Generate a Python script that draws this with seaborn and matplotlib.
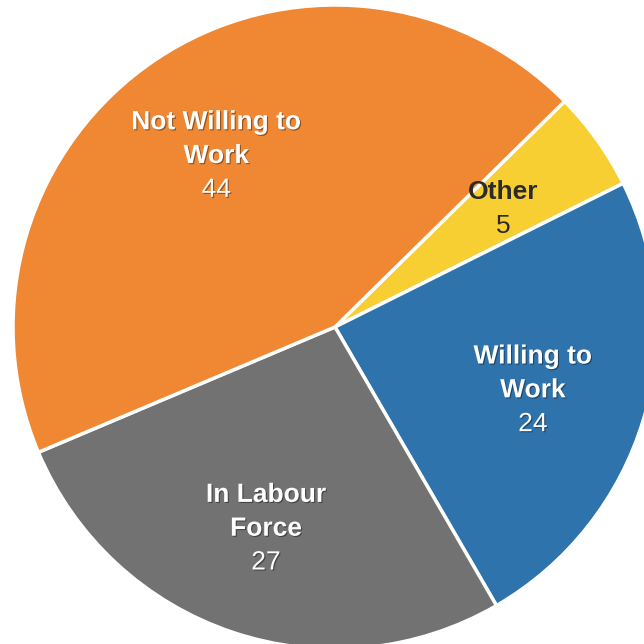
import numpy as np
import matplotlib
matplotlib.use("Agg")
import matplotlib.pyplot as plt
import matplotlib.patheffects as pe
import seaborn as sns

# Survey breakdown (values in %)
categories = ["Other", "Willing to\nWork", "In Labour\nForce", "Not Willing to\nWork"]
values = [5, 24, 27, 44]
colors = ["#F8CF33", "#2F73AD", "#727272", "#EF8733"]
name_colors = ["#2B2B2B", "white", "white", "white"]

sns.set_theme(style="white")
plt.rcParams["font.family"] = ["Liberation Sans", "DejaVu Sans"]

fig = plt.figure(figsize=(6.44, 6.44), dpi=100)
ax = fig.add_axes([0, 0, 1, 1])

wedges, _ = ax.pie(
    values,
    colors=colors,
    startangle=44.5,
    counterclock=False,
    radius=1.0,
    wedgeprops=dict(edgecolor="white", linewidth=2.5),
)

shadow = [pe.withSimplePatchShadow(offset=(0.8, -0.8), shadow_rgbFace="black", alpha=0.4)]

for w, name, val, col in zip(wedges, categories, values, name_colors):
    mid = np.deg2rad((w.theta1 + w.theta2) / 2)
    r = 0.65
    x, y = r * np.cos(mid), r * np.sin(mid) - 0.01
    n_lines = name.count("\n") + 1
    step = 0.105
    top = y + step * n_lines / 2
    for i, line in enumerate(name.split("\n")):
        t = ax.text(x - 0.008, top - step * i, line, ha="center", va="center",
                    fontsize=19, fontweight="bold", color=col)
        if col == "white":
            t.set_path_effects(shadow)
    t = ax.text(x - 0.008, top - step * n_lines, str(val), ha="center", va="center",
                fontsize=19, color=col)
    if col == "white":
        t.set_path_effects(shadow)

ax.set_xlim(-335 / 322, (644 - 335) / 322)
ax.set_ylim(-317 / 322, 327 / 322)
ax.set_aspect("equal")
ax.axis("off")

fig.savefig("out.png", dpi=100, facecolor="white")
